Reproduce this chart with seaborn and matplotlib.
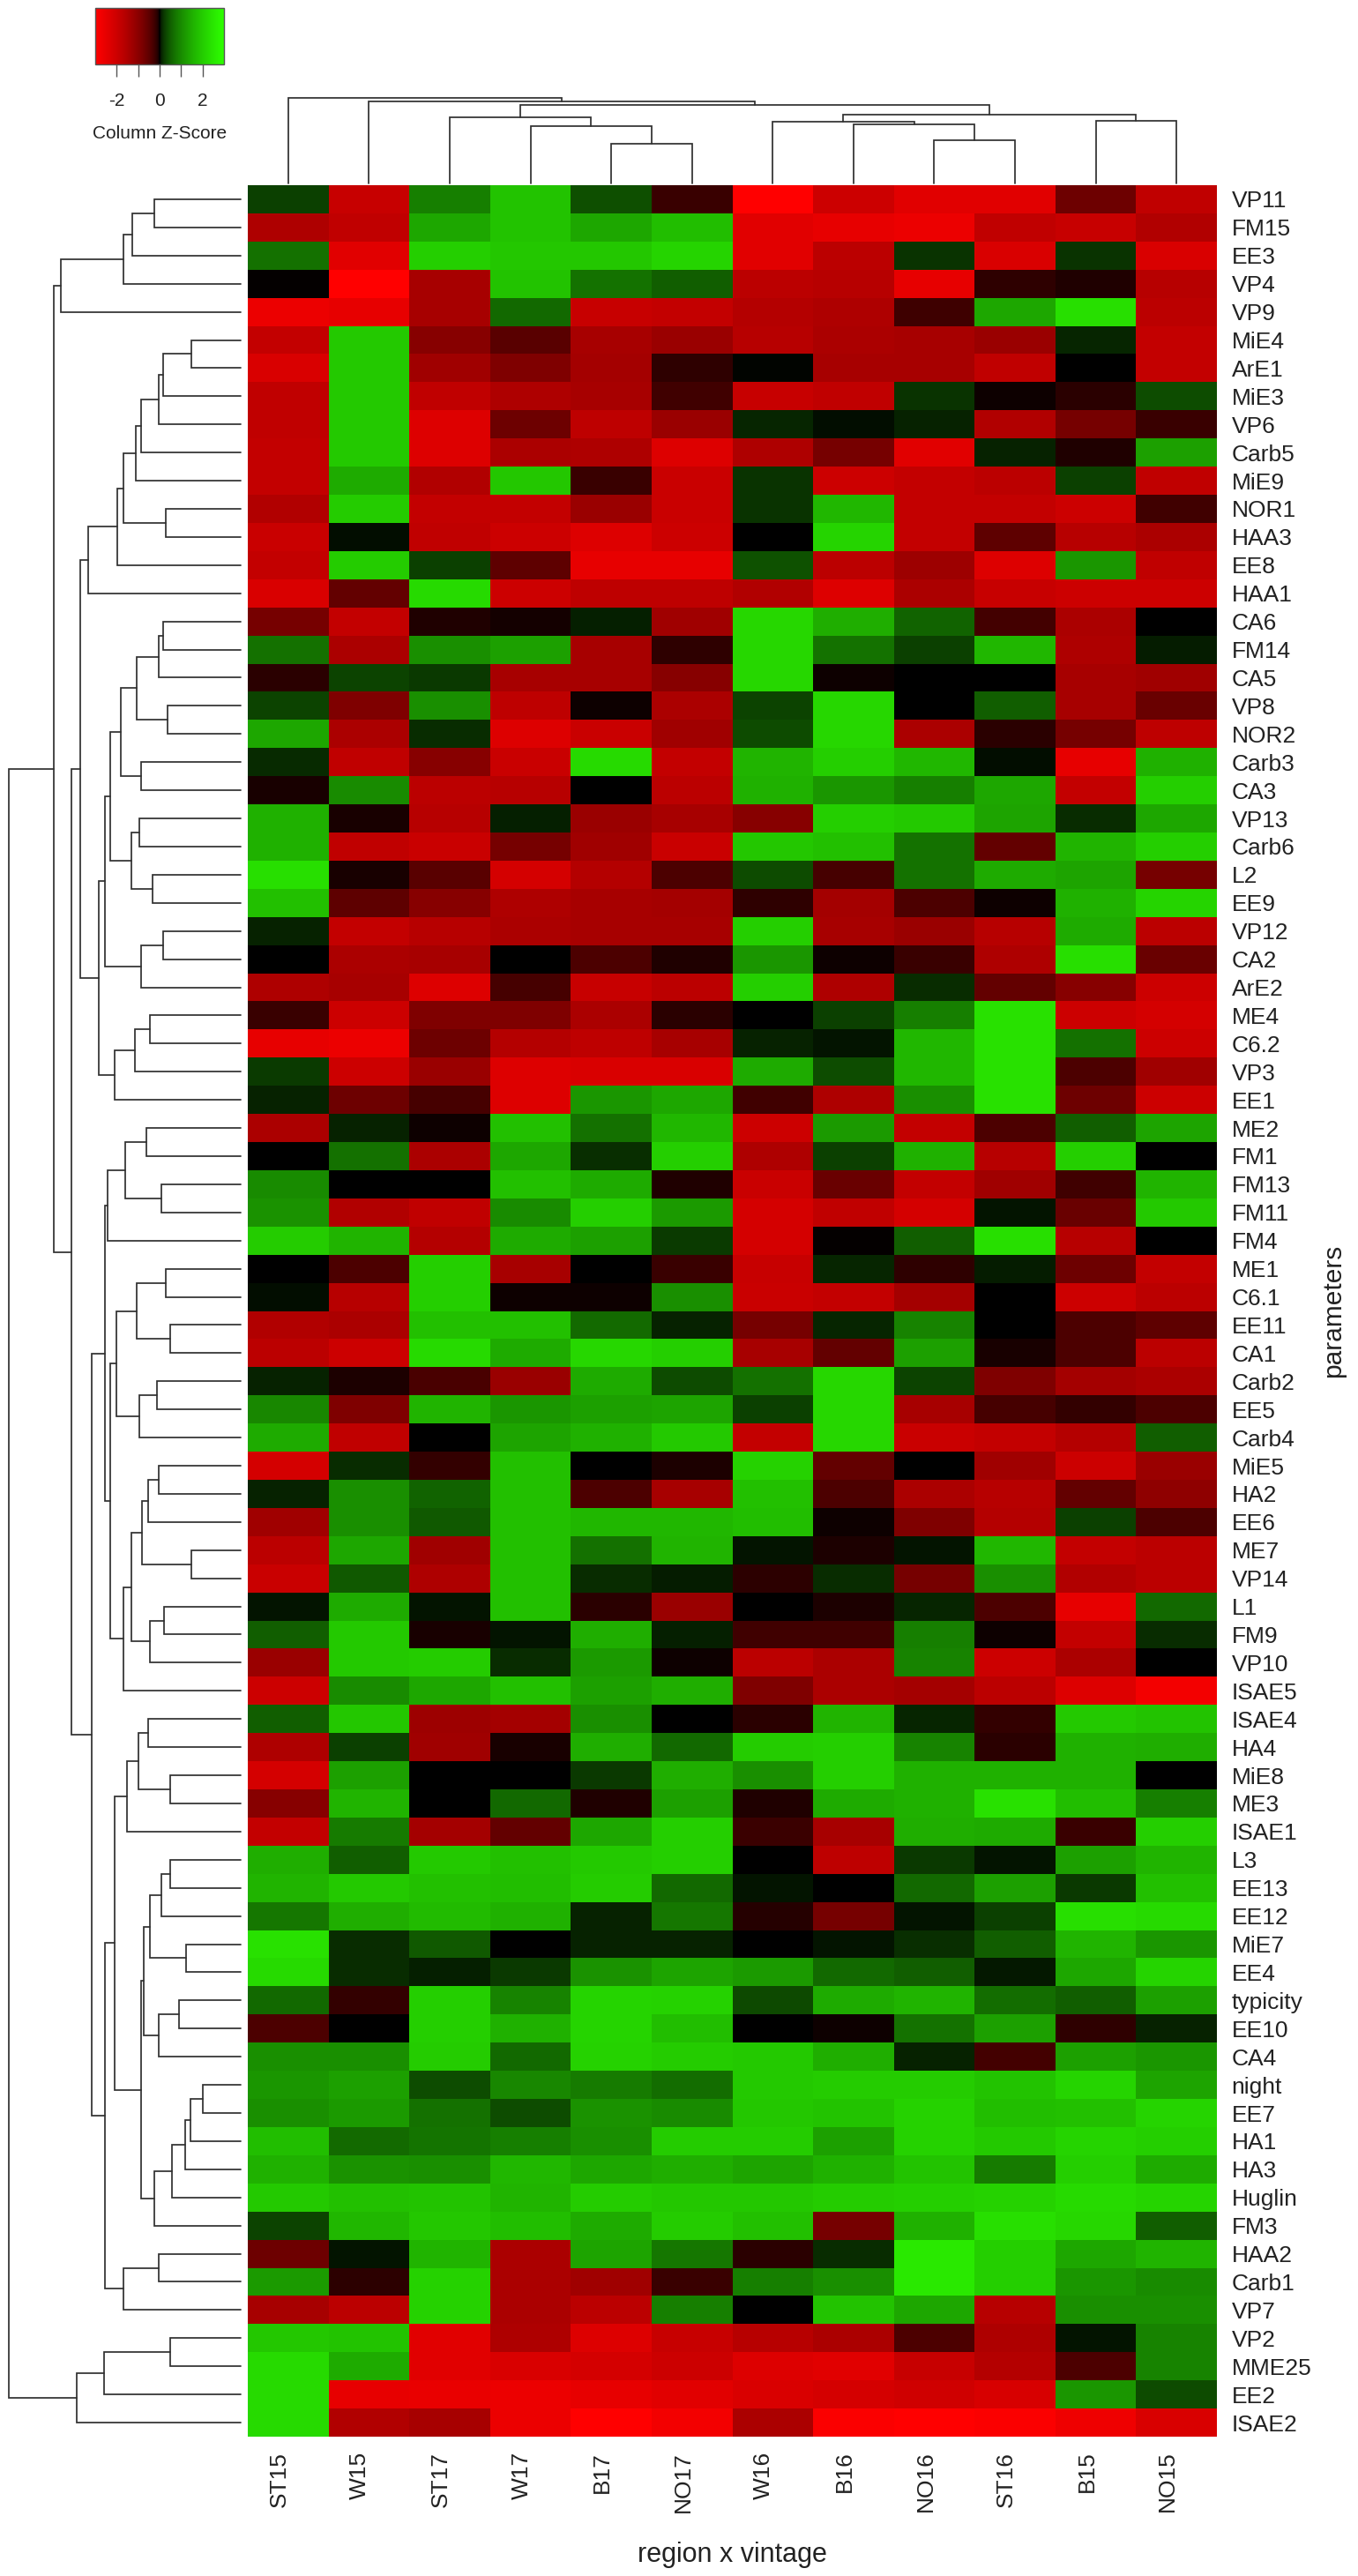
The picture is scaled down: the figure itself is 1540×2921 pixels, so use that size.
"""Clustered heatmap of column z-scores, region x vintage against parameters."""

import matplotlib

matplotlib.use("Agg")

import matplotlib.pyplot as plt
import numpy as np
import pandas as pd
import seaborn as sns
from matplotlib.colors import LinearSegmentedColormap

WIDTH = 1540
HEIGHT = 2921

col_labels = ["ST15", "W15", "ST17", "W17", "B17", "NO17", "W16", "B16", "NO16", "ST16", "B15", "NO15"]

row_labels = [
    "VP11", "FM15", "EE3", "VP4", "VP9", "MiE4", "ArE1", "MiE3", "VP6", "Carb5",
    "MiE9", "NOR1", "HAA3", "EE8", "HAA1", "CA6", "FM14", "CA5", "VP8", "NOR2",
    "Carb3", "CA3", "VP13", "Carb6", "L2", "EE9", "VP12", "CA2", "ArE2", "ME4",
    "C6.2", "VP3", "EE1", "ME2", "FM1", "FM13", "FM11", "FM4", "ME1", "C6.1",
    "EE11", "CA1", "Carb2", "EE5", "Carb4", "MiE5", "HA2", "EE6", "ME7", "VP14",
    "L1", "FM9", "VP10", "ISAE5", "ISAE4", "HA4", "MiE8", "ME3", "ISAE1", "L3",
    "EE13", "EE12", "MiE7", "EE4", "typicity", "EE10", "CA4", "night", "EE7", "HA1",
    "HA3", "Huglin", "FM3", "HAA2", "Carb1", "VP7", "VP2", "MME25", "EE2", "ISAE2",
]

# one row per parameter
z_scores = [
    [0.25, -1.9, 0.85, 1.85, 0.37, -0.2, -3.0, -2.0, -2.4, -2.4, -0.65, -1.8],
    [-1.5, -1.8, 1.4, 1.85, 1.4, 1.75, -2.4, -2.5, -2.6, -1.8, -1.9, -1.55],
    [0.68, -2.4, 2.05, 1.9, 1.9, 2.15, -2.4, -1.7, 0.17, -2.25, 0.17, -2.25],
    [-0.02, -3.0, -1.4, 1.85, 0.7, 0.5, -1.7, -1.65, -2.5, -0.15, -0.08, -1.65],
    [-2.6, -2.5, -1.4, 0.6, -1.9, -1.85, -1.6, -1.5, -0.24, 1.4, 2.35, -1.7],
    [-1.85, 1.95, -0.95, -0.45, -1.4, -1.2, -1.65, -1.45, -1.4, -1.2, 0.1, -1.85],
    [-2.25, 1.95, -1.3, -0.85, -1.35, -0.15, 0.02, -1.4, -1.4, -1.8, -0.01, -1.85],
    [-1.8, 1.95, -1.8, -1.5, -1.4, -0.25, -1.9, -1.8, 0.17, -0.03, -0.12, 0.35],
    [-1.8, 1.95, -2.3, -0.65, -1.75, -1.2, 0.1, 0.03, 0.09, -1.55, -0.75, -0.2],
    [-1.85, 1.95, -2.3, -1.45, -1.5, -2.3, -1.5, -0.75, -2.4, 0.09, -0.08, 1.3],
    [-1.85, 1.45, -1.55, 1.9, -0.2, -1.95, 0.17, -2.0, -1.85, -1.7, 0.25, -1.8],
    [-1.55, 2.0, -1.85, -1.85, -1.2, -1.95, 0.17, 1.65, -1.85, -1.85, -2.0, -0.25],
    [-1.95, 0.03, -1.8, -2.0, -2.3, -2.0, 0.01, 2.15, -1.85, -0.5, -1.65, -1.45],
    [-1.85, 2.0, 0.25, -0.5, -2.5, -2.5, 0.38, -1.7, -1.25, -2.3, 1.15, -1.8],
    [-2.25, -0.55, 2.25, -2.0, -1.75, -1.75, -1.55, -2.3, -1.45, -1.9, -2.0, -2.0],
    [-0.75, -1.85, -0.08, -0.04, 0.08, -1.3, 2.2, 1.5, 0.55, -0.28, -1.45, 0.01],
    [0.68, -1.45, 1.05, 1.3, -1.4, -0.15, 2.2, 0.7, 0.25, 1.65, -1.5, 0.06],
    [-0.12, 0.28, 0.2, -1.4, -1.4, -0.95, 2.2, -0.03, -0.01, -0.01, -1.4, -1.3],
    [0.28, -0.85, 1.05, -1.75, -0.03, -1.45, 0.28, 2.2, 0.01, 0.5, -1.4, -0.6],
    [1.4, -1.45, 0.13, -2.3, -1.95, -1.3, 0.33, 2.2, -1.45, -0.12, -0.75, -1.75],
    [0.12, -1.8, -0.95, -1.95, 2.25, -1.85, 1.6, 2.05, 1.65, 0.03, -2.5, 1.55],
    [-0.05, 1.0, -1.7, -1.65, 0.01, -1.7, 1.55, 1.15, 0.85, 1.4, -1.85, 2.05],
    [1.55, -0.05, -1.65, 0.08, -1.2, -1.4, -0.95, 2.05, 1.95, 1.35, 0.13, 1.4],
    [1.55, -1.8, -1.95, -0.75, -1.3, -1.95, 1.9, 1.8, 0.7, -0.55, 1.6, 2.05],
    [2.35, -0.05, -0.45, -2.15, -1.6, -0.35, 0.33, -0.3, 0.7, 1.45, 1.35, -0.75],
    [1.8, -0.5, -0.95, -1.5, -1.4, -1.35, -0.15, -1.35, -0.35, -0.03, 1.55, 2.15],
    [0.09, -1.85, -1.65, -1.45, -1.4, -1.4, 2.05, -1.4, -1.2, -1.65, 1.45, -1.7],
    [-0.01, -1.45, -1.4, 0.0, -0.35, -0.08, 1.15, -0.03, -0.2, -1.5, 2.35, -0.6],
    [-1.5, -1.4, -2.3, -0.3, -1.9, -1.7, 2.05, -1.5, 0.13, -0.55, -0.95, -2.0],
    [-0.2, -2.0, -0.85, -0.85, -1.45, -0.12, -0.01, 0.25, 0.85, 2.4, -2.0, -2.15],
    [-2.5, -2.6, -0.65, -1.6, -1.75, -1.4, 0.09, 0.04, 1.65, 2.4, 0.68, -2.0],
    [0.22, -2.0, -1.2, -2.3, -2.25, -2.25, 1.45, 0.35, 1.65, 2.4, -0.35, -1.3],
    [0.09, -0.65, -0.3, -2.3, 1.15, 1.4, -0.25, -1.5, 1.05, 2.4, -0.65, -2.0],
    [-1.45, 0.09, -0.03, 1.8, 0.68, 1.65, -2.0, 1.2, -1.85, -0.35, 0.5, 1.35],
    [0.01, 0.68, -1.45, 1.4, 0.15, 2.05, -1.5, 0.25, 1.55, -1.65, 2.05, -0.01],
    [1.0, -0.01, 0.01, 1.8, 1.45, -0.08, -1.95, -0.6, -1.85, -1.3, -0.25, 1.6],
    [1.1, -1.55, -1.8, 1.0, 2.05, 1.2, -2.15, -1.8, -2.15, 0.04, -0.6, 1.95],
    [2.0, 1.6, -1.6, 1.45, 1.3, 0.22, -2.15, -0.02, 0.5, 2.35, -1.65, 0.01],
    [-0.01, -0.35, 2.05, -1.4, 0.01, -0.2, -1.9, 0.1, -0.15, 0.07, -0.65, -1.85],
    [0.03, -1.65, 2.05, -0.03, -0.03, 1.05, -1.95, -1.85, -1.35, -0.01, -2.0, -1.7],
    [-1.55, -1.45, 1.8, 1.8, 0.62, 0.09, -0.75, 0.1, 0.9, -0.01, -0.35, -0.5],
    [-1.7, -2.0, 2.25, 1.45, 2.2, 2.05, -1.4, -0.55, 1.3, -0.05, -0.35, -1.7],
    [0.09, -0.06, -0.32, -1.2, 1.45, 0.33, 0.68, 2.2, 0.28, -0.85, -1.35, -1.45],
    [0.95, -0.85, 1.6, 1.15, 1.3, 1.35, 0.25, 2.2, -1.4, -0.3, -0.17, -0.35],
    [1.45, -1.8, 0.01, 1.35, 1.55, 1.95, -1.85, 2.2, -1.95, -1.85, -1.6, 0.5],
    [-2.15, 0.13, -0.17, 1.8, -0.01, -0.06, 2.1, -0.55, -0.01, -1.3, -2.0, -1.2],
    [0.09, 1.05, 0.55, 1.8, -0.35, -1.4, 1.8, -0.35, -1.45, -1.65, -0.55, -1.05],
    [-1.3, 1.05, 0.45, 1.8, 1.65, 1.65, 1.75, -0.03, -0.85, -1.6, 0.25, -0.35],
    [-1.7, 1.4, -1.3, 1.8, 0.68, 1.6, 0.04, -0.07, 0.04, 1.65, -1.85, -1.7],
    [-1.95, 0.45, -1.5, 1.8, 0.13, 0.07, -0.14, 0.14, -0.75, 1.05, -1.55, -1.7],
    [0.04, 1.45, 0.04, 1.8, -0.12, -1.2, 0.01, -0.07, 0.1, -0.35, -2.5, 0.6],
    [0.5, 1.95, -0.05, 0.04, 1.5, 0.08, -0.25, -0.25, 0.85, -0.03, -1.85, 0.14],
    [-1.2, 1.95, 2.0, 0.14, 1.2, -0.03, -1.7, -1.45, 0.9, -2.0, -1.45, 0.01],
    [-2.0, 1.0, 1.4, 1.8, 1.3, 1.5, -0.85, -1.45, -1.35, -1.7, -2.3, -2.75],
    [0.5, 1.9, -1.25, -1.35, 1.05, -0.01, -0.12, 1.6, 0.1, -0.17, 1.95, 1.85],
    [-1.5, 0.25, -1.3, -0.05, 1.5, 0.6, 2.0, 2.05, 0.9, -0.12, 1.55, 1.5],
    [-2.15, 1.3, -0.01, -0.01, 0.2, 1.5, 1.05, 2.05, 1.55, 1.55, 1.55, 0.01],
    [-0.95, 1.6, -0.01, 0.6, -0.08, 1.3, -0.08, 1.45, 1.55, 2.4, 1.75, 0.85],
    [-1.85, 0.8, -1.35, -0.55, 1.4, 2.05, -0.22, -1.4, 1.5, 1.45, -0.2, 2.05],
    [1.5, 0.5, 1.95, 1.8, 1.95, 2.05, 0.01, -1.75, 0.2, 0.04, 1.3, 1.6],
    [1.6, 1.95, 1.8, 1.75, 2.0, 0.6, 0.04, 0.01, 0.6, 1.3, 0.2, 1.8],
    [0.75, 1.5, 1.7, 1.55, 0.09, 0.75, -0.1, -0.75, 0.04, 0.25, 2.35, 2.25],
    [2.4, 0.14, 0.45, -0.01, 0.09, 0.09, 0.01, 0.04, 0.15, 0.5, 1.6, 1.15],
    [2.25, 0.14, 0.08, 0.2, 1.1, 1.35, 1.2, 0.6, 0.5, 0.05, 1.4, 2.15],
    [0.6, -0.17, 2.05, 0.9, 2.15, 2.1, 0.32, 1.45, 1.6, 0.65, 0.5, 1.3],
    [-0.35, -0.01, 2.05, 1.55, 2.15, 1.75, -0.01, -0.03, 0.7, 1.3, -0.15, 0.09],
    [1.05, 1.05, 2.0, 0.6, 2.1, 2.0, 1.95, 1.5, 0.09, -0.27, 1.3, 1.15],
    [1.15, 1.3, 0.35, 0.95, 0.8, 0.65, 1.95, 2.0, 2.0, 1.85, 2.15, 1.35],
    [1.05, 1.2, 0.68, 0.35, 1.1, 1.0, 1.9, 1.85, 2.1, 1.75, 1.8, 2.15],
    [1.75, 0.62, 0.72, 0.85, 1.05, 2.0, 2.0, 1.3, 2.1, 1.95, 2.15, 2.05],
    [1.55, 1.1, 1.05, 1.65, 1.4, 1.5, 1.35, 1.55, 1.85, 0.8, 2.05, 1.45],
    [1.95, 1.8, 1.85, 1.6, 2.0, 1.9, 1.9, 2.0, 2.05, 2.1, 2.25, 2.15],
    [0.28, 1.65, 1.9, 1.75, 1.45, 2.0, 1.8, -0.75, 1.55, 2.35, 2.2, 0.5],
    [-0.65, 0.04, 1.6, -1.45, 1.35, 0.75, -0.12, 0.14, 2.55, 2.05, 1.4, 1.6],
    [1.2, -0.14, 2.1, -1.45, -1.3, -0.2, 0.85, 1.05, 2.55, 2.05, 1.15, 1.0],
    [-1.4, -1.7, 2.1, -1.45, -1.7, 0.85, 0.01, 1.85, 1.4, -1.65, 1.05, 1.05],
    [1.9, 1.85, -2.4, -1.5, -2.3, -1.9, -1.65, -1.45, -0.35, -1.5, 0.04, 0.9],
    [2.25, 1.45, -2.4, -2.25, -2.15, -2.0, -2.3, -2.4, -1.9, -1.6, -0.35, 0.9],
    [2.25, -2.5, -2.55, -2.6, -2.5, -2.4, -2.25, -2.15, -2.05, -2.2, 1.15, 0.33],
    [2.25, -1.55, -1.4, -2.6, -3.0, -2.75, -1.45, -2.9, -3.0, -2.9, -2.65, -2.25],
]

# merge trees as [height, left, right], leaves are the labels
col_tree = [9.73, "ST15", [9.3, "W15", [8.9,
    [7.5, "ST17", [6.5, "W17", [4.5, "B17", "NO17"]]],
    [7.8,
     [7.0, "W16", [6.7, "B16", [4.9, "NO16", "ST16"]]],
     [7.1, "B15", "NO15"]]]]]

row_tree_a = [20.4, [13.3, [12.3, [9.8, "VP11", "FM15"], "EE3"], "VP4"], "VP9"]
row_tree_b = [17.3, [14.0,
    [13.3,
     [11.9, [11.3, [9.3, [8.8, [5.6, "MiE4", "ArE1"], "MiE3"], "VP6"], "Carb5"], "MiE9"],
     [8.5, "NOR1", "HAA3"]],
    "EE8"], "HAA1"]
row_tree_c = [16.1,
    [15.4,
     [14.8,
      [13.6,
       [11.8, [9.3, [8.8, "CA6", "FM14"], "CA5"], [8.3, "VP8", "NOR2"]],
       [11.3, "Carb3", "CA3"]],
      [12.4, [11.5, "VP13", "Carb6"], [10.0, "L2", "EE9"]]],
     [11.3, [8.8, "VP12", "CA2"], "ArE2"]],
    [14.3, [12.0, [10.3, "ME4", "C6.2"], "VP3"], "EE1"]]
row_tree_d = [15.4,
    [15.1, [13.1, [10.7, "ME2", "FM1"], [9.0, "FM13", "FM11"]], "FM4"],
    [14.8,
     [14.1,
      [11.8, [8.5, "ME1", "C6.1"], [8.0, "EE11", "CA1"]],
      [11.5, [9.5, "Carb2", "EE5"], "Carb4"]],
     [13.3,
      [12.4,
       [11.2, [10.5, [9.3, "MiE5", "HA2"], "EE6"], [5.6, "ME7", "VP14"]],
       [10.3, [8.7, "L1", "FM9"], "VP10"]],
      "ISAE5"]]]
row_tree_e = [15.4,
    [14.3,
     [12.9, [11.6, [10.5, "ISAE4", "HA4"], [8.0, "MiE8", "ME3"]], "ISAE1"],
     [11.3,
      [11.0,
       [10.3, [9.0, [8.0, "L3", "EE13"], "EE12"], [6.2, "MiE7", "EE4"]],
       [9.3, [7.0, "typicity", "EE10"], "CA4"]],
      [9.8, [7.8, [6.3, [5.7, [4.3, "night", "EE7"], "HA1"], "HA3"], "Huglin"], "FM3"]]],
    [13.3, [9.3, "HAA2", "Carb1"], "VP7"]]
row_tree_f = [18.6, [15.5, [8.0, "VP2", "MME25"], "EE2"], "ISAE2"]
row_tree = [26.3,
    [21.2, row_tree_a,
     [19.2, [18.2, row_tree_b, row_tree_c], [16.9, row_tree_d, row_tree_e]]],
    row_tree_f]

LINE_COLOR = "#303030"
LINE_WIDTH = 1.25


def px_axes(fig, x0, y0, x1, y1):
    return fig.add_axes([x0 / WIDTH, 1 - y1 / HEIGHT, (x1 - x0) / WIDTH, (y1 - y0) / HEIGHT])


def make_cmap():
    # ramp is steep near zero, as in the printed colour key
    t = np.linspace(0, 1, 128) ** 0.55
    reds = [(v, 0, 0) for v in t[::-1]]
    greens = [(0.176 * v, v, 0) for v in t]
    return LinearSegmentedColormap.from_list("red_black_green", reds + greens, N=512)


def draw_tree(ax, node, leaf_pos, horizontal):
    if isinstance(node, str):
        return leaf_pos[node], 0.0
    height, left, right = node
    p0, h0 = draw_tree(ax, left, leaf_pos, horizontal)
    p1, h1 = draw_tree(ax, right, leaf_pos, horizontal)
    pos = [p0, p0, p1, p1]
    hts = [h0, height, height, h1]
    if horizontal:
        ax.plot(hts, pos, color=LINE_COLOR, lw=LINE_WIDTH, clip_on=False, solid_joinstyle="miter")
    else:
        ax.plot(pos, hts, color=LINE_COLOR, lw=LINE_WIDTH, clip_on=False, solid_joinstyle="miter")
    return (p0 + p1) / 2, height


def main():
    sns.set_theme(style="white")
    plt.rcParams["font.family"] = ["Liberation Sans", "DejaVu Sans"]
    plt.rcParams["text.color"] = "#222222"

    df = pd.DataFrame(z_scores, index=row_labels, columns=col_labels)

    fig = plt.figure(figsize=(WIDTH / 100, HEIGHT / 100), dpi=100)
    ax = px_axes(fig, 281, 210, 1380, 2763)
    cax = px_axes(fig, 108, 9, 254, 73)

    sns.heatmap(
        df,
        ax=ax,
        cmap=make_cmap(),
        vmin=-3,
        vmax=3,
        cbar_ax=cax,
        cbar_kws={"orientation": "horizontal", "ticks": [-2, -1, 0, 1, 2]},
        xticklabels=True,
        yticklabels=True,
    )

    ax.yaxis.tick_right()
    ax.yaxis.set_label_position("right")
    ax.tick_params(axis="y", length=0, pad=12, labelsize=19, labelrotation=0, labelcolor="#222222")
    ax.tick_params(axis="x", length=0, pad=12, labelsize=19, labelrotation=90, labelcolor="#222222")
    ax.set_xticks(np.arange(12) + 0.39, labels=col_labels)
    ax.set_xlabel("region x vintage", fontsize=22, labelpad=24, color="#222222")
    ax.set_ylabel("parameters", fontsize=21.5, labelpad=8, color="#222222")

    cbar = ax.collections[0].colorbar
    cbar.set_ticklabels(["-2", "", "0", "", "2"])
    cbar.ax.tick_params(axis="x", length=10, width=1, color="#555555", labelsize=15, pad=13, labelcolor="#222222")
    cbar.outline.set_edgecolor("#555555")
    cbar.outline.set_linewidth(1)
    cbar.set_label("Column Z-Score", fontsize=15, labelpad=13, color="#222222")

    row_ax = px_axes(fig, 10, 210, 273, 2763)
    row_ax.set_xlim(26.3, 0)
    row_ax.set_ylim(len(row_labels), 0)
    row_ax.axis("off")
    draw_tree(row_ax, row_tree, {n: i + 0.5 for i, n in enumerate(row_labels)}, True)

    col_ax = px_axes(fig, 281, 111, 1380, 208)
    col_ax.set_xlim(0, len(col_labels))
    col_ax.set_ylim(0, 9.73)
    col_ax.axis("off")
    draw_tree(col_ax, col_tree, {n: i + 0.5 for i, n in enumerate(col_labels)}, False)

    fig.savefig("out.png", dpi=100)
    plt.close(fig)


if __name__ == "__main__":
    main()
